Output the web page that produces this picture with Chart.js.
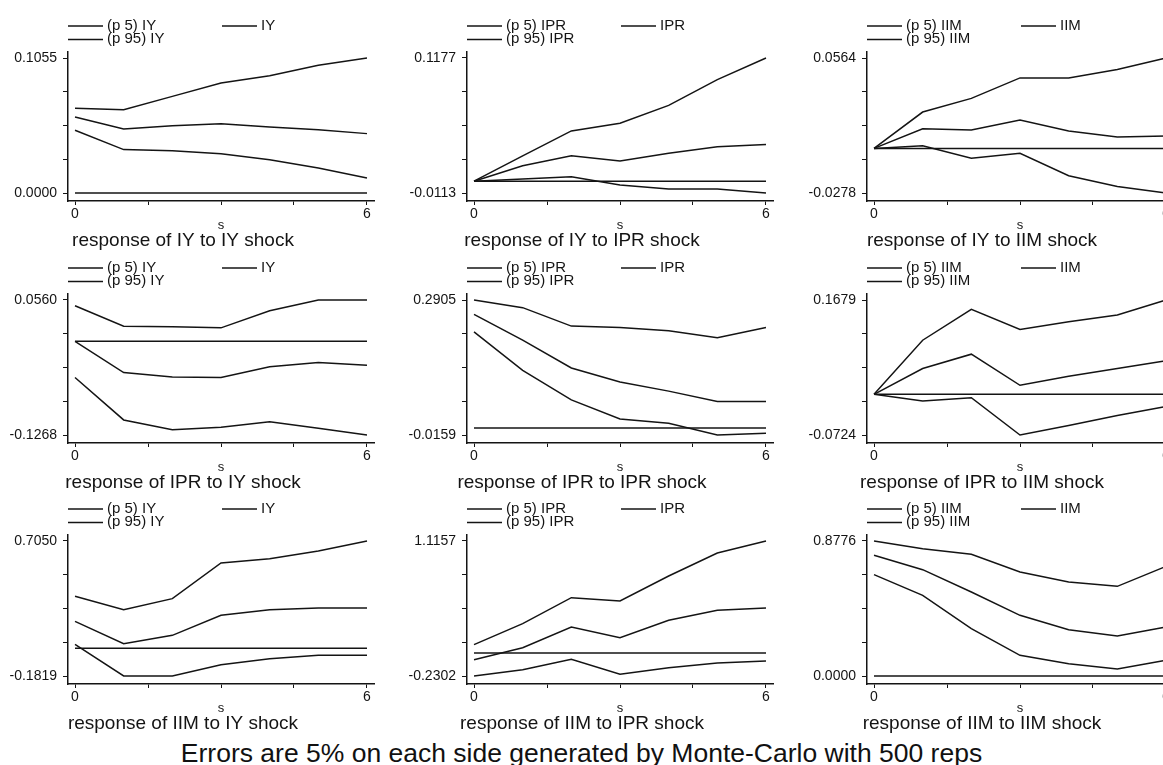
<!DOCTYPE html>
<html>
<head>
<meta charset="utf-8">
<script src="https://cdn.jsdelivr.net/npm/chart.js@4.4.0/dist/chart.umd.min.js"></script>
<style>
html,body{margin:0;padding:0;background:#ffffff;overflow:hidden;width:1163px;height:765px;}
canvas.panel{position:absolute;}
#caption{position:absolute;left:0;width:1163px;top:740px;text-align:center;
  font-family:"Liberation Sans",Arial,sans-serif;font-size:26.5px;line-height:26.5px;color:#111;white-space:nowrap;}
</style>
</head>
<body>
<div id="caption">Errors are 5% on each side generated by Monte-Carlo with 500 reps</div>
<script>
// ---- data ----
const steps = [0, 1, 2, 3, 4, 5, 6];
const responseVars = ['IY', 'IPR', 'IIM'];   // rows
const shockVars = ['IY', 'IPR', 'IIM'];      // columns
const xTickValues = [0, 1.5, 3, 4.5, 6];
const xTickLabels = ['0', '', '', '', '6'];
const xAxisTitle = 's';

// y tick labels (min / max of each panel, row-major)
const tickLow  = [0.0000, -0.0113, -0.0278, -0.1268, -0.0159, -0.0724, -0.1819, -0.2302, 0.0000];
const tickHigh = [0.1055,  0.1177,  0.0564,  0.0560,  0.2905,  0.1679,  0.7050,  1.1157, 0.8776];

// (p 5) lower band
const lowerBand = [
  [0.0490, 0.0339, 0.0331, 0.0307, 0.0260, 0.0195, 0.0117],
  [0.0000, 0.0020, 0.0042, -0.0037, -0.0075, -0.0075, -0.0113],
  [0.0000, 0.0016, -0.0061, -0.0030, -0.0170, -0.0237, -0.0278],
  [-0.0490, -0.1064, -0.1196, -0.1164, -0.1087, -0.1178, -0.1268],
  [0.2183, 0.1308, 0.0639, 0.0206, 0.0107, -0.0159, -0.0121],
  [0.0000, -0.0119, -0.0060, -0.0724, -0.0555, -0.0376, -0.0215],
  [0.0261, -0.1819, -0.1819, -0.1074, -0.0680, -0.0461, -0.0461],
  [-0.2302, -0.1671, -0.0641, -0.2136, -0.1471, -0.1006, -0.0807],
  [0.6587, 0.5244, 0.3077, 0.1343, 0.0802, 0.0455, 0.1018]
];
// point response
const pointResp = [
  [0.0594, 0.0500, 0.0526, 0.0542, 0.0516, 0.0495, 0.0464],
  [0.0000, 0.0147, 0.0242, 0.0194, 0.0267, 0.0328, 0.0350],
  [0.0000, 0.0123, 0.0115, 0.0177, 0.0109, 0.0072, 0.0078],
  [0.0000, -0.0422, -0.0481, -0.0490, -0.0345, -0.0286, -0.0322],
  [0.2578, 0.1993, 0.1362, 0.1042, 0.0837, 0.0601, 0.0601],
  [0.0000, 0.0459, 0.0715, 0.0161, 0.0322, 0.0459, 0.0596],
  [0.1772, 0.0305, 0.0853, 0.2167, 0.2539, 0.2648, 0.2648],
  [-0.0674, 0.0522, 0.2582, 0.1520, 0.3248, 0.4245, 0.4477],
  [0.7844, 0.6912, 0.5461, 0.3944, 0.3012, 0.2600, 0.3185]
];
// (p 95) upper band
const upperBand = [
  [0.0662, 0.0651, 0.0755, 0.0860, 0.0917, 0.0998, 0.1055],
  [0.0000, 0.0242, 0.0480, 0.0553, 0.0724, 0.0971, 0.1177],
  [0.0000, 0.0227, 0.0312, 0.0440, 0.0440, 0.0492, 0.0564],
  [0.0483, 0.0206, 0.0197, 0.0183, 0.0415, 0.0560, 0.0560],
  [0.2905, 0.2731, 0.2313, 0.2283, 0.2205, 0.2046, 0.2283],
  [0.0000, 0.0963, 0.1512, 0.1154, 0.1291, 0.1411, 0.1679],
  [0.3415, 0.2539, 0.3262, 0.5605, 0.5889, 0.6393, 0.7050],
  [0.0822, 0.2915, 0.5508, 0.5175, 0.7668, 0.9961, 1.1157],
  [0.8776, 0.8278, 0.7909, 0.6761, 0.6110, 0.5829, 0.7129]
];
const zeroLine = [0, 0, 0, 0, 0, 0, 0];

// ---- layout / style ----
const FONT = '"Liberation Sans", Arial, sans-serif';
const INK = '#141414';
const colAxisX = [68, 467, 867];
const rowAxisTop = [52, 294, 535];
const Y_AXIS_W = 60;
const PLOT_W = 306;
const PLOT_H = 149;
const X_AXIS_H = 31;
const TOP_PAD = 52;
const CANVAS_W = 382;
const CANVAS_H = 262;

const panelDecor = {
  id: 'panelDecor',
  afterDraw(chart, args, opts) {
    const ctx = chart.ctx, a = chart.chartArea;
    const ds = chart.data.datasets;
    const items = [
      { label: ds[0].label, x: a.left, y: a.top - 26 },
      { label: ds[1].label, x: a.left + 154, y: a.top - 26 },
      { label: ds[2].label, x: a.left, y: a.top - 12.5 }
    ];
    ctx.save();
    ctx.font = '15px ' + FONT;
    ctx.textBaseline = 'middle';
    ctx.textAlign = 'left';
    ctx.fillStyle = INK;
    ctx.strokeStyle = INK;
    ctx.lineWidth = 1.5;
    items.forEach(it => {
      ctx.beginPath();
      ctx.moveTo(it.x, it.y);
      ctx.lineTo(it.x + 35, it.y);
      ctx.stroke();
      ctx.fillText(it.label, it.x + 39, it.y - 0.5);
    });
    // axis title "s"
    ctx.textAlign = 'center';
    ctx.textBaseline = 'alphabetic';
    ctx.font = '13px ' + FONT;
    ctx.fillText(opts.axisTitle, (a.left + a.right) / 2, a.bottom + 28);
    // panel title
    ctx.font = '19px ' + FONT;
    ctx.fillText(opts.text, a.left + 115, a.bottom + 45);
    ctx.restore();
  }
};

function toXY(vals) { return steps.map((s, i) => ({ x: s, y: vals[i] })); }

for (let r = 0; r < 3; r++) {
  for (let c = 0; c < 3; c++) {
    const k = r * 3 + c;
    const lo = tickLow[k], hi = tickHigh[k], rng = hi - lo;
    const sv = shockVars[c];
    const cv = document.createElement('canvas');
    cv.className = 'panel';
    cv.width = CANVAS_W; cv.height = CANVAS_H;
    cv.style.width = CANVAS_W + 'px'; cv.style.height = CANVAS_H + 'px';
    cv.style.left = (colAxisX[c] - Y_AXIS_W) + 'px';
    cv.style.top = (rowAxisTop[r] - TOP_PAD) + 'px';
    document.body.appendChild(cv);

    const mk = (label, vals) => ({
      label, data: toXY(vals), borderColor: INK, borderWidth: 1.5,
      pointRadius: 0, tension: 0, fill: false
    });

    new Chart(cv, {
      type: 'line',
      data: {
        datasets: [
          mk('(p 5) ' + sv, lowerBand[k]),
          mk(sv, pointResp[k]),
          mk('(p 95) ' + sv, upperBand[k]),
          mk('', zeroLine)
        ]
      },
      options: {
        responsive: false,
        animation: false,
        devicePixelRatio: 1,
        layout: { padding: {
          top: TOP_PAD, left: 0,
          right: CANVAS_W - Y_AXIS_W - PLOT_W,
          bottom: CANVAS_H - TOP_PAD - PLOT_H - X_AXIS_H } },
        plugins: {
          legend: { display: false },
          tooltip: { enabled: false },
          title: { display: false },
          panelDecor: {
            text: 'response of ' + responseVars[r] + ' to ' + sv + ' shock',
            axisTitle: xAxisTitle
          }
        },
        scales: {
          x: {
            type: 'linear',
            min: -0.144, max: 6.144,
            afterBuildTicks: s => { s.ticks = xTickValues.map(v => ({ value: v })); },
            afterFit: s => { s.height = X_AXIS_H; },
            ticks: {
              autoSkip: false, maxRotation: 0, padding: 1, color: INK,
              font: { family: FONT, size: 14 },
              callback: (v, i) => xTickLabels[i]
            },
            grid: { drawOnChartArea: false, drawTicks: true, tickLength: 4, color: INK, lineWidth: 1 },
            border: { display: true, color: INK, width: 1.5 }
          },
          y: {
            type: 'linear',
            min: lo - rng * 8 / 135,
            max: hi + rng * 6 / 135,
            afterBuildTicks: s => { s.ticks = [0, 1, 2, 3, 4].map(i => ({ value: lo + i * rng / 4 })); },
            afterFit: s => { s.width = Y_AXIS_W; },
            ticks: {
              autoSkip: false, padding: 6, color: INK,
              font: { family: FONT, size: 14 },
              callback: (v, i) => i === 0 ? lo.toFixed(4) : (i === 4 ? hi.toFixed(4) : '')
            },
            grid: { drawOnChartArea: false, drawTicks: true, tickLength: 5, color: INK, lineWidth: 1 },
            border: { display: true, color: INK, width: 1.5 }
          }
        }
      },
      plugins: [panelDecor]
    });
  }
}
</script>
</body>
</html>
